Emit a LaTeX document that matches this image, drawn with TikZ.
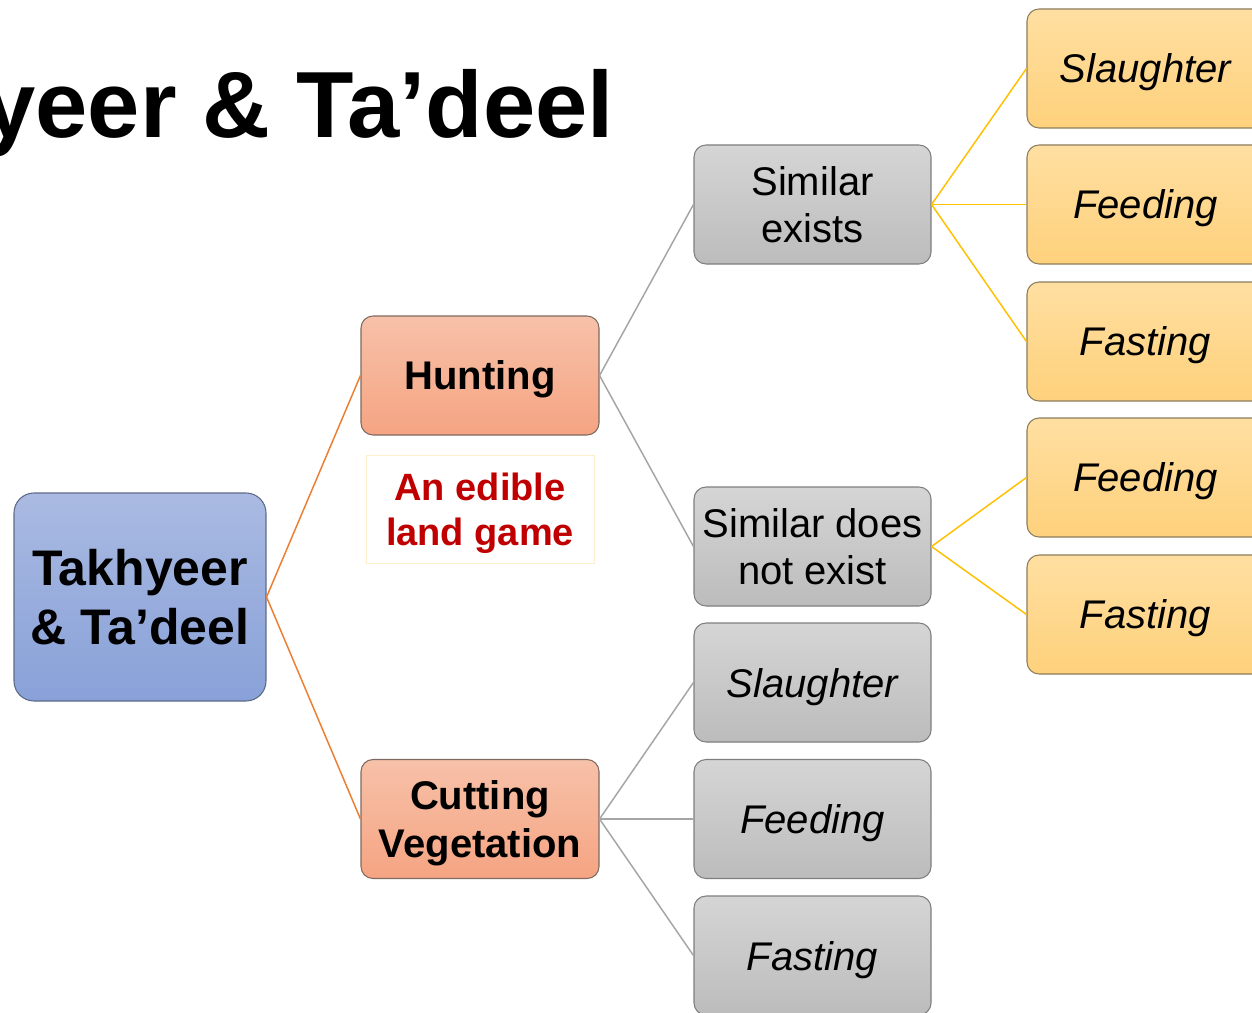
\documentclass[tikz,border=0pt]{standalone}
\usepackage{fontspec}
\setmainfont{Liberation Sans}
\definecolor{rootTop}{HTML}{AABAE2}
\definecolor{rootBot}{HTML}{88A1D8}
\definecolor{rootLine}{HTML}{5E6B88}
\definecolor{salTop}{HTML}{F7C1A9}
\definecolor{salBot}{HTML}{F5A482}
\definecolor{salLine}{HTML}{7E6A60}
\definecolor{gryTop}{HTML}{D5D5D5}
\definecolor{gryBot}{HTML}{BCBCBC}
\definecolor{gryLine}{HTML}{7F7F7F}
\definecolor{orgTop}{HTML}{FFDFA1}
\definecolor{orgBot}{HTML}{FED17C}
\definecolor{orgLine}{HTML}{8C7D5C}
\definecolor{lnOrange}{HTML}{ED7D31}
\definecolor{lnGrey}{HTML}{A5A5A5}
\definecolor{lnYellow}{HTML}{FFC000}
\definecolor{noteRed}{HTML}{C00000}
\definecolor{noteLine}{HTML}{FDEFCB}
\tikzset{
  basebox/.style={rectangle, inner sep=0pt, align=center, line width=0.8pt,
    minimum width=177.75pt, minimum height=89.25pt, rounded corners=9pt},
  rootbox/.style={basebox, draw=rootLine, top color=rootTop, bottom color=rootBot,
    minimum width=189pt, minimum height=156pt, rounded corners=15pt,
    font=\bfseries\fontsize{37.5}{44}\selectfont},
  salbox/.style={basebox, draw=salLine, top color=salTop, bottom color=salBot,
    minimum width=178.5pt, text depth=0pt, font=\bfseries\fontsize{30}{36}\selectfont},
  grybox/.style={basebox, draw=gryLine, top color=gryTop, bottom color=gryBot,
    font=\fontsize{30}{35.25}\selectfont},
  gryitbox/.style={grybox, text depth=0pt, font=\itshape\fontsize{30}{35.25}\selectfont},
  orgbox/.style={basebox, draw=orgLine, top color=orgTop, bottom color=orgBot,
    text depth=0pt, font=\itshape\fontsize{30}{35.25}\selectfont},
  notebox/.style={rectangle, draw=noteLine, line width=0.75pt, fill=white, inner sep=0pt,
    minimum width=171pt, minimum height=81pt, align=center, text=noteRed, text depth=0pt,
    font=\bfseries\fontsize{28.5}{33.75}\selectfont},
  conO/.style={draw=lnOrange, line width=1.1pt},
  conG/.style={draw=lnGrey, line width=1.1pt},
  conY/.style={draw=lnYellow, line width=1.1pt}
}
\begin{document}
\begin{tikzpicture}[x=0.75pt, y=-0.75pt]
\useasboundingbox (0,0) rectangle (1252,1013);
\clip (0,0) rectangle (1252,1013);
\fill[white] (0,0) rectangle (1252,1013);

\node[anchor=base east, inner sep=0pt, font=\bfseries\fontsize{70.5}{80}\selectfont] (title) at (614,138) {yeer \& Ta’deel};

\node[rootbox] (root) at (140,597) {Takhyeer\\\& Ta’deel};

\node[salbox] (hunt) at (480,375.5) {Hunting};
\node[salbox] (cut) at (480,819) {Cutting\\Vegetation};
\node[notebox] (note) at (480,509) {An edible\\land game};

\node[grybox] (sex) at (812.5,204.5) {Similar\\exists};
\node[grybox] (snot) at (812.5,546.5) {Similar does\\not exist};
\node[gryitbox] (gsl) at (812.5,682.5) {Slaughter};
\node[gryitbox] (gfe) at (812.5,819) {Feeding};
\node[gryitbox] (gfa) at (812.5,955.5) {Fasting};

\node[orgbox] (osl) at (1145.5,68.5) {Slaughter};
\node[orgbox] (ofe1) at (1145.5,204.5) {Feeding};
\node[orgbox] (ofa1) at (1145.5,341.5) {Fasting};
\node[orgbox] (ofe2) at (1145.5,477.5) {Feeding};
\node[orgbox] (ofa2) at (1145.5,614.5) {Fasting};

\draw[conO] (root.east) -- (hunt.west);
\draw[conO] (root.east) -- (cut.west);
\draw[conG] (hunt.east) -- (sex.west);
\draw[conG] (hunt.east) -- (snot.west);
\draw[conG] (cut.east) -- (gsl.west);
\draw[conG] (cut.east) -- (gfe.west);
\draw[conG] (cut.east) -- (gfa.west);
\draw[conY] (sex.east) -- (osl.west);
\draw[conY] (sex.east) -- (ofe1.west);
\draw[conY] (sex.east) -- (ofa1.west);
\draw[conY] (snot.east) -- (ofe2.west);
\draw[conY] (snot.east) -- (ofa2.west);
\end{tikzpicture}
\end{document}
